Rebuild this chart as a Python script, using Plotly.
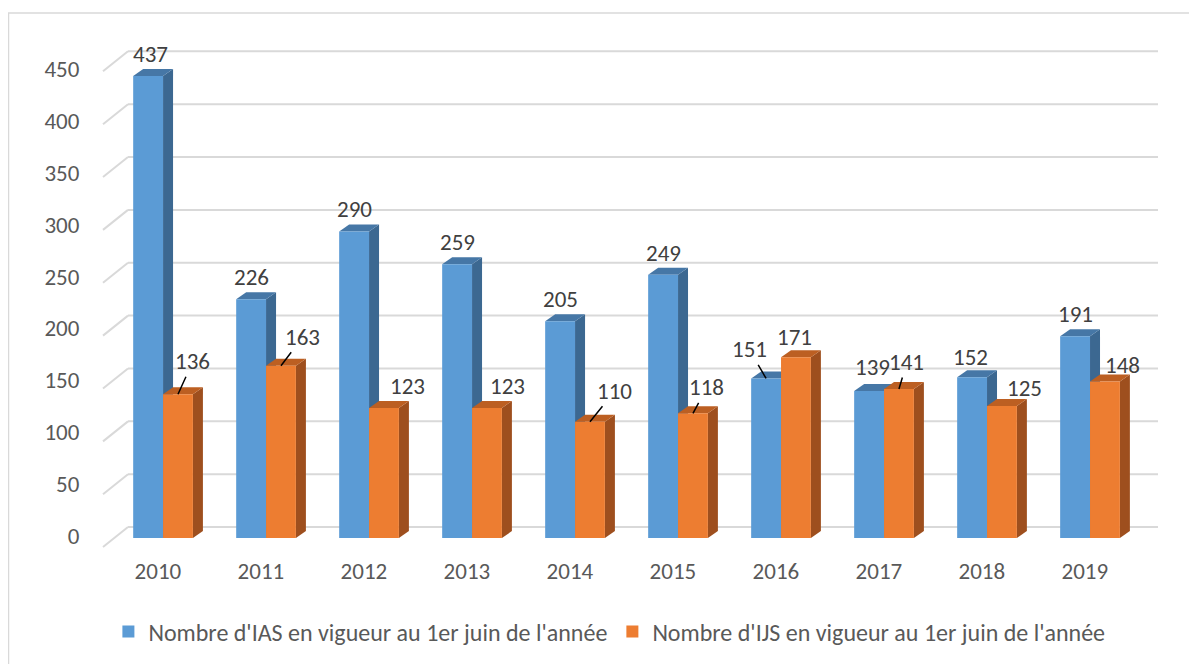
import plotly.graph_objects as go

# data
years = ["2010", "2011", "2012", "2013", "2014", "2015", "2016", "2017", "2018", "2019"]
ias = [437, 226, 290, 259, 205, 249, 151, 139, 152, 191]
ijs = [136, 163, 123, 123, 110, 118, 171, 141, 125, 148]
y_ticks = [0, 50, 100, 150, 200, 250, 300, 350, 400, 450]

name_ias = "Nombre d'IAS en vigueur au 1er juin de l'année"
name_ijs = "Nombre d'IJS en vigueur au 1er juin de l'année"

# colours
BLUE, BLUE_SIDE, BLUE_TOP = "#5B9BD5", "#3C6891", "#4677A6"
ORANGE, ORANGE_SIDE, ORANGE_TOP = "#ED7D31", "#9E4F1E", "#BC5F22"
GRID = "#D9D9D9"
TXT = "#404040"
FONT = "Carlito, Calibri, 'Open Sans', sans-serif"

# geometry (the page body adds an 8px offset)
W, H = 1197, 664
X_RANGE = [-0.583, 9.66]
Y_RANGE = [-16, 490]
M_L, M_R, M_T, M_B = 95, 47, 12, 117
plot_w = W - M_L - M_R
plot_h = H - M_T - M_B
px_x = plot_w / (X_RANGE[1] - X_RANGE[0])
px_y = plot_h / (Y_RANGE[1] - Y_RANGE[0])
BAR_W = 0.29
DX = 10 / px_x          # depth of the 3D faces
DY = 7 / px_y
BACK_DY = 11 / px_y      # back wall offset
DIAG_DY = 20 / px_y
DIAG_DX = 25 / plot_w

shapes = []

# back wall gridlines with the little floor diagonals
for v in y_ticks:
    yb = v + BACK_DY
    shapes.append(dict(type="line", xref="paper", yref="y", x0=DIAG_DX, x1=1,
                       y0=yb, y1=yb, line=dict(color=GRID, width=2), layer="below"))
    shapes.append(dict(type="line", xref="paper", yref="y", x0=0, x1=DIAG_DX,
                       y0=yb - DIAG_DY, y1=yb, line=dict(color=GRID, width=2), layer="below"))


def faces(x0, x1, v, side_col, top_col):
    side = f"M{x1},0 L{x1},{v} L{x1 + DX},{v + DY} L{x1 + DX},{DY} Z"
    top = f"M{x0},{v} L{x1},{v} L{x1 + DX},{v + DY} L{x0 + DX},{v + DY} Z"
    return [dict(type="path", path=side, fillcolor=side_col, line=dict(width=0), layer="below"),
            dict(type="path", path=top, fillcolor=top_col, line=dict(width=0), layer="below")]


for i in range(len(years)):
    shapes += faces(i - BAR_W, i, ias[i], BLUE_SIDE, BLUE_TOP)
    shapes += faces(i, i + BAR_W, ijs[i], ORANGE_SIDE, ORANGE_TOP)

# chart area border
shapes.append(dict(type="rect", xref="paper", yref="paper",
                   x0=(0.5 - M_L) / plot_w, x1=1.3,
                   y0=-0.5, y1=1 + (M_T - 5) / plot_h,
                   line=dict(color="#D9D9D9", width=1.5), fillcolor="rgba(0,0,0,0)"))

fig = go.Figure()
xs = list(range(len(years)))
fig.add_trace(go.Bar(x=xs, y=ias, name=name_ias, offset=-BAR_W, width=BAR_W,
                     marker=dict(color=BLUE, line=dict(width=0))))
fig.add_trace(go.Bar(x=xs, y=ijs, name=name_ijs, offset=0, width=BAR_W,
                     marker=dict(color=ORANGE, line=dict(width=0))))

# data labels: (xshift, yshift) from bar top centre, leader line when flagged
ias_pos = [(2, 22, False), (0, 22, False), (0, 22, False), (0, 22, False), (0, 22, False),
           (0, 22, False), (-17, 29, True), (3, 24, False), (-2, 20, False), (0, 22, False)]
ijs_pos = [(15, 33, True), (22, 29, True), (24, 22, False), (21, 22, False), (25, 31, True),
           (14, 26, True), (-1, 20, False), (8, 27, True), (23, 18, False), (18, 17, False)]

annotations = []
for series, pos, off in ((ias, ias_pos, -BAR_W / 2), (ijs, ijs_pos, BAR_W / 2)):
    for i, v in enumerate(series):
        sx, sy, lead = pos[i]
        a = dict(x=i + off, y=v, text=str(v), font=dict(family=FONT, size=23, color=TXT))
        if lead:
            a.update(showarrow=True, arrowhead=0, arrowwidth=1.5, arrowcolor="black",
                     ax=sx, ay=-sy, standoff=0)
        else:
            a.update(showarrow=False, xshift=sx, yshift=sy)
        annotations.append(a)

fig.update_layout(
    width=W, height=H,
    margin=dict(l=M_L, r=M_R, t=M_T, b=M_B),
    paper_bgcolor="white", plot_bgcolor="white",
    shapes=shapes, annotations=annotations,
    showlegend=True,
    legend=dict(orientation="h", x=0.48, xanchor="center", y=-(624 - (H - M_B)) / plot_h,
                yanchor="middle", font=dict(family=FONT, size=24, color="#595959"),
                itemsizing="constant", traceorder="normal"),
    font=dict(family=FONT, color="#595959"),
)

fig.update_xaxes(
    range=X_RANGE, tickmode="array",
    tickvals=[i - 0.05 for i in xs], ticktext=years,
    showgrid=False, zeroline=False, showline=False,
    ticks="", tickfont=dict(family=FONT, size=23, color="#595959"),
)
fig.update_yaxes(
    range=Y_RANGE, tickmode="array",
    tickvals=[1.9 + v * 0.982 for v in y_ticks], ticktext=[str(v) for v in y_ticks],
    showgrid=False, zeroline=False, showline=False,
    ticks="outside", ticklen=18, tickcolor="rgba(0,0,0,0)",
    tickfont=dict(family=FONT, size=23, color="#595959"),
)

fig.write_html("out.html")
